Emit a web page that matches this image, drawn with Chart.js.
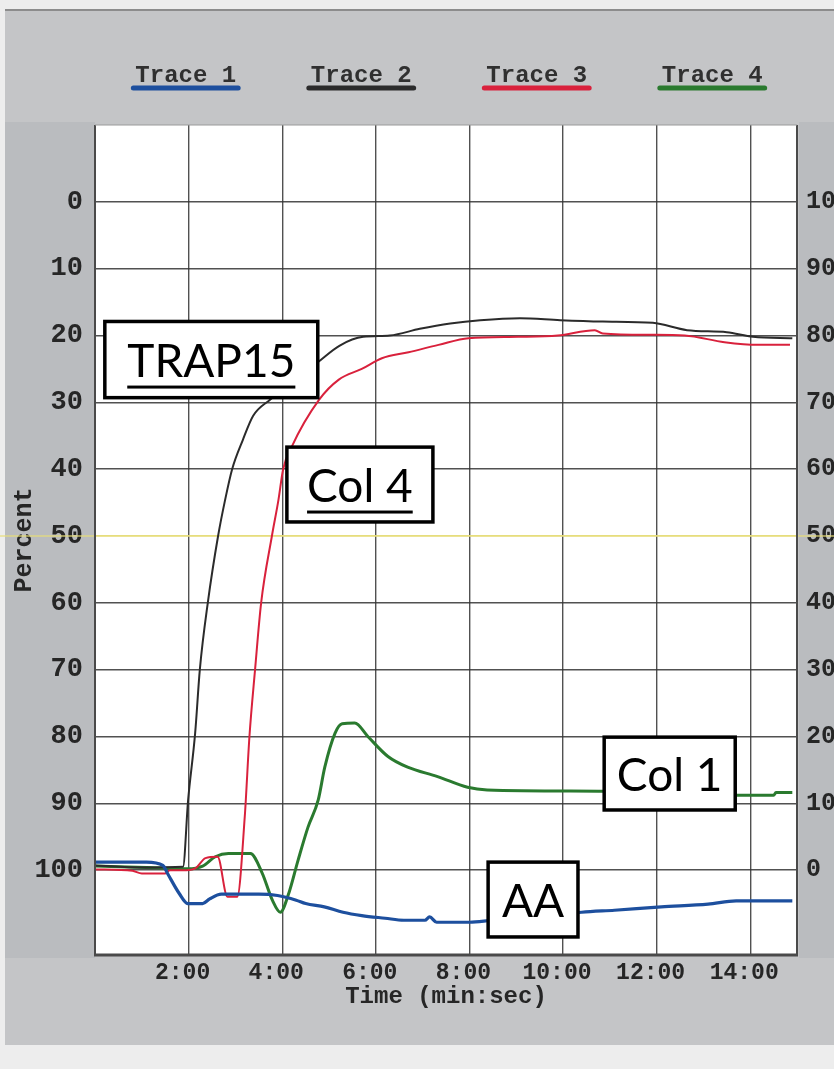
<!DOCTYPE html>
<html>
<head>
<meta charset="utf-8">
<title>Aggregation traces</title>
<script src="https://cdn.jsdelivr.net/npm/chart.js@4.4.1/dist/chart.umd.min.js"></script>
<style>
  body { margin:0; width:834px; height:1069px; overflow:hidden; background:#ededed; position:relative; }
  #paper { position:absolute; left:5px; top:9px; width:840px; height:1034px; background:#c4c5c7; border-top:2px solid #8c8c8c; }
  .strip { position:absolute; top:122px; height:836px; background:#babcbf; }
  #wrap { position:absolute; left:0; top:0; width:870px; height:1069px; }
</style>
</head>
<body>
<div id="paper"></div>
<div class="strip" style="left:5px;width:90px"></div>
<div class="strip" style="left:799px;width:40px"></div>
<div id="wrap"><canvas id="chart" width="870" height="1069"></canvas></div>
<script>
// axis ticks
const timeTicks = [2, 4, 6, 8, 10, 12, 14];
const pctTicks = [0, 10, 20, 30, 40, 50, 60, 70, 80, 90, 100];

// Trace 1 - AA
const trace1Time = [0, 1.1, 1.45, 1.55, 1.8, 1.98, 2.3, 2.45, 2.7, 3.5, 3.9, 4.3, 4.5, 4.9, 5.3, 5.7, 6.2, 6.6, 7.05, 7.15, 7.3, 8.0, 8.5, 9.0, 9.7, 10.4, 11.1, 12.1, 13.1, 13.7, 14.9];
const trace1Pct  = [98.8, 98.8, 99.3, 100.5, 103.5, 105, 105, 104.3, 103.6, 103.6, 103.8, 104.5, 105, 105.5, 106.3, 106.8, 107.2, 107.5, 107.5, 107.0, 107.8, 107.8, 107.5, 107.3, 106.9, 106.3, 106.0, 105.5, 105.1, 104.6, 104.6];

// Trace 2 - TRAP15
const trace2Time = [0, 1.0, 1.88, 1.99, 2.14, 2.24, 2.41, 2.63, 2.78, 2.93, 3.16, 3.38, 3.74, 4.2, 4.76, 5.23, 5.73, 6.3, 6.94, 7.59, 8.23, 9.08, 9.94, 10.85, 11.92, 12.65, 13.5, 14.06, 14.9];
const trace2Pct  = [99.3, 99.6, 99.5, 89.5, 79.5, 70, 60, 50, 44.6, 40, 35.6, 32, 29.6, 27, 24, 21.5, 20.2, 20, 19, 18.2, 17.7, 17.4, 17.7, 17.9, 18.1, 19.2, 19.5, 20.2, 20.4];

// Trace 3 - Col 4
const trace3Time = [0, 0.8, 1.0, 1.5, 1.6, 1.95, 2.15, 2.36, 2.62, 2.83, 3.04, 3.2, 3.3, 3.42, 3.55, 3.78, 3.92, 4.02, 4.2, 4.79, 5.21, 5.7, 6.13, 6.7, 7.34, 7.98, 9.04, 9.89, 10.68, 10.85, 11.87, 12.6, 13.45, 14.15, 14.85];
const trace3Pct  = [99.9, 100.1, 100.5, 100.5, 100.0, 100.0, 99.7, 98.2, 98.0, 104, 104, 92, 80, 70, 60, 50, 44.6, 40, 36.7, 29.6, 26.6, 25, 23.4, 22.5, 21.4, 20.4, 20.2, 20.0, 19.2, 19.7, 19.9, 20.0, 21.0, 21.4, 21.4];

// Trace 4 - Col 1
const trace4Time = [0, 1.5, 1.98, 2.3, 2.57, 2.85, 3.32, 3.57, 3.79, 3.96, 4.13, 4.34, 4.55, 4.77, 4.91, 5.13, 5.28, 5.55, 5.83, 6.26, 6.68, 7.32, 7.96, 8.38, 10.9, 13.8, 14.5, 14.55, 14.9];
const trace4Pct  = [99.4, 99.7, 99.8, 99.4, 98, 97.5, 97.5, 100.4, 104.5, 106.3, 103.7, 98.5, 93.6, 89.5, 84.6, 79.5, 78.1, 78, 80, 83, 84.6, 86, 87.6, 88, 88.2, 88.8, 88.8, 88.4, 88.4];

const traceLabels = ['Trace 1', 'Trace 2', 'Trace 3', 'Trace 4'];
const traceColors = ['#1d4f9e', '#2b2b2b', '#d9213c', '#2a7a2f'];
const traceWidths = [3.2, 2, 2, 3];

// boxed agonist labels, placed in data units (minutes, percent)
const notes = [
  { text: 'TRAP15', x0: 0.21, x1: 4.76, y0: 17.9, y1: 29.3, underline: true },
  { text: 'Col 4', x0: 4.1, x1: 7.22, y0: 36.7, y1: 47.9, underline: true },
  { text: 'Col 1', x0: 10.88, x1: 13.68, y0: 80.1, y1: 91.0, underline: false },
  { text: 'AA', x0: 8.4, x1: 10.32, y0: 98.8, y1: 110.0, underline: false }
];

function points(ts, vs) { return ts.map((t, i) => ({ x: t, y: vs[i] })); }

const series = [
  points(trace1Time, trace1Pct),
  points(trace2Time, trace2Pct),
  points(trace3Time, trace3Pct),
  points(trace4Time, trace4Pct)
];

const tickFont = { family: "'Liberation Mono', monospace", weight: 'bold' };
const inkColor = '#262626';
const gridColor = 'rgba(50,50,50,0.85)';

const paperPlugin = {
  id: 'paper',
  beforeDraw(chart) {
    const { ctx, chartArea: a } = chart;
    ctx.save();
    ctx.fillStyle = '#ffffff';
    ctx.fillRect(a.left, a.top, a.right - a.left, a.bottom - a.top);
    ctx.restore();
  },
  beforeDatasetsDraw(chart) {
    // pale yellow streak along the 50 line, running past the plot
    const { ctx } = chart;
    const y = chart.scales.y.getPixelForValue(50);
    ctx.save();
    ctx.strokeStyle = 'rgba(232,222,120,0.6)';
    ctx.lineWidth = 2;
    ctx.beginPath();
    ctx.moveTo(0, y);
    ctx.lineTo(chart.width, y);
    ctx.stroke();
    ctx.restore();
  },
  afterDatasetsDraw(chart) {
    const { ctx, chartArea: a, scales } = chart;
    ctx.save();
    // plot frame
    ctx.strokeStyle = '#4a4a4a';
    ctx.lineWidth = 2;
    ctx.beginPath();
    ctx.moveTo(a.left, a.top); ctx.lineTo(a.left, a.bottom);
    ctx.moveTo(a.right, a.top); ctx.lineTo(a.right, a.bottom);
    ctx.stroke();
    ctx.lineWidth = 3;
    ctx.beginPath();
    ctx.moveTo(a.left - 1, a.bottom); ctx.lineTo(a.right + 1, a.bottom);
    ctx.stroke();
    ctx.strokeStyle = '#9a9a9a';
    ctx.lineWidth = 1;
    ctx.beginPath();
    ctx.moveTo(a.left, a.top); ctx.lineTo(a.right, a.top);
    ctx.stroke();

    // agonist boxes
    ctx.font = "46px Lato, 'Liberation Sans', sans-serif";
    ctx.textAlign = 'center';
    ctx.textBaseline = 'alphabetic';
    notes.forEach(n => {
      const x0 = scales.x.getPixelForValue(n.x0);
      const x1 = scales.x.getPixelForValue(n.x1);
      const y0 = scales.y.getPixelForValue(n.y0);
      const y1 = scales.y.getPixelForValue(n.y1);
      ctx.fillStyle = '#ffffff';
      ctx.fillRect(x0, y0, x1 - x0, y1 - y0);
      ctx.strokeStyle = '#000000';
      ctx.lineWidth = 3.5;
      ctx.strokeRect(x0, y0, x1 - x0, y1 - y0);
      const cx = (x0 + x1) / 2;
      const base = (y0 + y1) / 2 + 17;
      ctx.fillStyle = '#000000';
      ctx.fillText(n.text, cx, base);
      if (n.underline) {
        const w = ctx.measureText(n.text).width;
        ctx.fillRect(cx - w / 2, base + 9, w, 3);
      }
    });
    ctx.restore();
  },
  afterDraw(chart) {
    // legend: label with a coloured bar under it
    const { ctx, chartArea: a } = chart;
    ctx.save();
    ctx.font = "bold 24px 'Liberation Mono', monospace";
    ctx.textAlign = 'center';
    ctx.textBaseline = 'alphabetic';
    chart.data.datasets.forEach((ds, i) => {
      const cx = a.left + (i + 0.5) * (a.right - a.left) / 4 + 3;
      ctx.fillStyle = '#303030';
      ctx.fillText(ds.label, cx, 82);
      const w = ctx.measureText(ds.label).width + 4;
      ctx.strokeStyle = ds.borderColor;
      ctx.lineWidth = 5;
      ctx.lineCap = 'round';
      ctx.beginPath();
      ctx.moveTo(cx - w / 2, 88);
      ctx.lineTo(cx + w / 2, 88);
      ctx.stroke();
    });
    ctx.restore();
  }
};

new Chart(document.getElementById('chart'), {
  type: 'line',
  data: {
    datasets: series.map((data, i) => ({
      label: traceLabels[i],
      data: data,
      borderColor: traceColors[i],
      borderWidth: traceWidths[i],
      pointRadius: 0,
      cubicInterpolationMode: 'monotone',
      fill: false
    }))
  },
  options: {
    responsive: false,
    animation: false,
    layout: { padding: { top: 125, left: 0, right: 0, bottom: 0 } },
    plugins: { legend: { display: false }, tooltip: { enabled: false } },
    scales: {
      x: {
        type: 'linear',
        min: 0,
        max: 15,
        afterBuildTicks: axis => { axis.ticks = timeTicks.map(v => ({ value: v })); },
        afterFit: scale => { scale.height = 114; },
        grid: { color: gridColor, lineWidth: 1.4, drawTicks: false },
        border: { display: false },
        ticks: {
          callback: v => v + ':00',
          font: { ...tickFont, size: 23 },
          color: inkColor,
          padding: 4,
          labelOffset: -6,
          maxRotation: 0,
          autoSkip: false
        },
        title: {
          display: true,
          text: 'Time (min:sec)',
          font: { ...tickFont, size: 24 },
          color: inkColor,
          padding: { top: 0, bottom: 58 }
        }
      },
      y: {
        position: 'left',
        min: -11.5,
        max: 112.7,
        reverse: true,
        afterBuildTicks: axis => { axis.ticks = pctTicks.map(v => ({ value: v })); },
        afterFit: scale => { scale.width = 95; },
        grid: {
          color: c => c.tick && c.tick.value === 50 ? 'rgba(225,215,120,0.9)' : gridColor,
          lineWidth: 1.4,
          drawTicks: false
        },
        border: { display: false },
        ticks: { font: { ...tickFont, size: 27 }, color: inkColor, padding: 12 },
        title: {
          display: true,
          text: 'Percent',
          font: { ...tickFont, size: 25 },
          color: inkColor,
          padding: { top: 10, bottom: 0 }
        }
      },
      y2: {
        position: 'right',
        min: 100 - 112.7,
        max: 100 + 11.5,
        afterBuildTicks: axis => { axis.ticks = pctTicks.map(v => ({ value: v })); },
        afterFit: scale => { scale.width = 73; },
        grid: { display: false, drawTicks: false },
        border: { display: false },
        ticks: { font: { ...tickFont, size: 25 }, color: inkColor, padding: 9 }
      }
    }
  },
  plugins: [paperPlugin]
});
</script>
</body>
</html>
